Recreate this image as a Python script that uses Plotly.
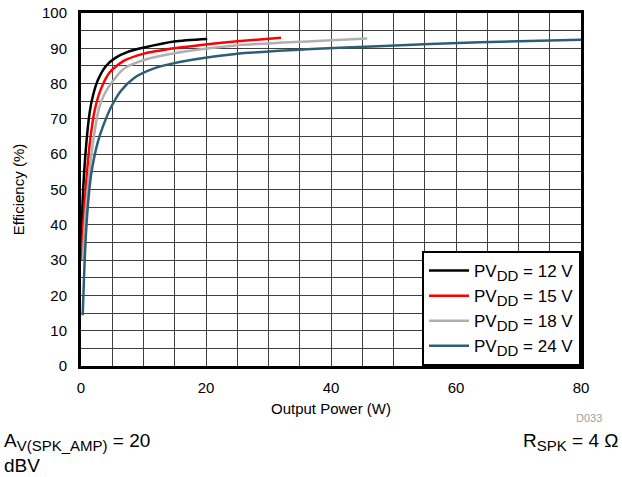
import plotly.graph_objects as go

# Data (Output power W, efficiency %)
p12 = [0.05, 0.32, 0.85, 1.4, 1.9, 2.7, 4.0, 5.5, 7.5, 10.1, 14.9, 20.2]
e12 = [35, 49, 63, 72, 76.5, 81, 85, 87.3, 89, 90.2, 91.9, 92.6]

p15 = [0.1, 0.3, 0.7, 1.4, 2.2, 3.2, 4.6, 6.9, 10.1, 14.9, 19.9, 25, 32]
e15 = [30, 38, 49, 63, 72.5, 78.5, 83.2, 86.5, 88.5, 90, 91.1, 92, 93]

p18 = [0.3, 0.6, 1.1, 1.9, 2.8, 3.6, 4.8, 6.9, 10.1, 14.9, 24.7, 36.9, 45.8]
e18 = [30, 40, 50.8, 63, 72.5, 76.5, 80, 84.3, 86.7, 88.6, 90.8, 92, 92.8]

p24 = [0.27, 0.5, 0.75, 1.1, 1.6, 2.1, 2.7, 3.5, 4.8, 6.4, 8.5, 11.7, 14.9, 19.9, 24.7, 36.9, 47.5, 63.8, 80]
e24 = [14.4, 26, 36, 45.5, 54, 59, 63.5, 67.8, 73.3, 78, 81.6, 84.3, 85.8, 87.3, 88.4, 89.8, 90.6, 91.7, 92.4]

sub = "<sub><span style='font-size:15px'>{}</span></sub>"
series_names = ["PV" + sub.format("DD") + " = 12 V", "PV" + sub.format("DD") + " = 15 V",
                "PV" + sub.format("DD") + " = 18 V", "PV" + sub.format("DD") + " = 24 V"]
colors = ["#000000", "#FF0000", "#B0B0B0", "#2E5E74"]

x_ticks = [0, 20, 40, 60, 80]
y_ticks = [0, 10, 20, 30, 40, 50, 60, 70, 80, 90, 100]
x_grid = list(range(0, 81, 5))
y_grid = list(range(0, 101, 5))

fig = go.Figure()
for (px, ey), name, c in zip([(p12, e12), (p15, e15), (p18, e18), (p24, e24)], series_names, colors):
    fig.add_trace(go.Scatter(x=px, y=ey, mode="lines", name=name, hoverinfo="skip",
                             line=dict(color=c, width=2.5, shape="spline", smoothing=0.7)))

font = "Liberation Sans, Arial, sans-serif"
gridc = "#404040"

fig.update_layout(
    template="none",
    width=622, height=477,
    margin=dict(l=81, r=41, t=13, b=111),
    paper_bgcolor="white", plot_bgcolor="white",
    font=dict(family=font, size=15, color="#000000"),
    showlegend=True,
    legend=dict(x=1, y=0, xanchor="right", yanchor="bottom",
                bgcolor="white", bordercolor="#000000", borderwidth=2,
                font=dict(size=17), tracegroupgap=0, itemwidth=40,
                traceorder="normal"),
    xaxis=dict(range=[0, 80], tickvals=x_grid,
               ticktext=[str(v) if v in x_ticks else "" for v in x_grid],
               showgrid=True, gridcolor=gridc, gridwidth=1,
               showline=True, linecolor="#000000", linewidth=3, mirror=True,
               ticks="", zeroline=False, automargin=False, ticklabelstandoff=6,
               title=dict(text="Output Power (W)", font=dict(size=15), standoff=9),
               tickfont=dict(size=15)),
    yaxis=dict(range=[0, 100], tickvals=y_grid,
               ticktext=[str(v) if v in y_ticks else "" for v in y_grid],
               showgrid=True, gridcolor=gridc, gridwidth=1,
               showline=True, linecolor="#000000", linewidth=3, mirror=True,
               ticks="", zeroline=False, automargin=False, ticklabelstandoff=8,
               title=dict(text="Efficiency (%)", font=dict(size=15), standoff=14),
               tickfont=dict(size=15)),
)

def px2paper(x, y):
    return (x - 81) / 500, (366 - y) / 353

dx, dy = px2paper(604, 418)
fig.add_annotation(text="D033", x=dx, y=dy, xref="paper", yref="paper",
                   xanchor="right", yanchor="middle",
                   showarrow=False, font=dict(size=11, color="#A0A0A0"))
ax_, ay_ = px2paper(2, 428)
fig.add_annotation(text="A" + sub.format("V(SPK_AMP)") + " = 20<br>dBV", xref="paper", yref="paper",
                   x=ax_, y=ay_, xanchor="left", yanchor="top",
                   align="left", showarrow=False, font=dict(size=19))
rx_, ry_ = px2paper(620, 428)
fig.add_annotation(text="R" + sub.format("SPK") + " = 4 Ω", xref="paper", yref="paper",
                   x=rx_, y=ry_, xanchor="right", yanchor="top",
                   align="right", showarrow=False, font=dict(size=19))

fig.write_html("out.html", config={"displayModeBar": False},
               post_script="document.body.style.margin='0';")
